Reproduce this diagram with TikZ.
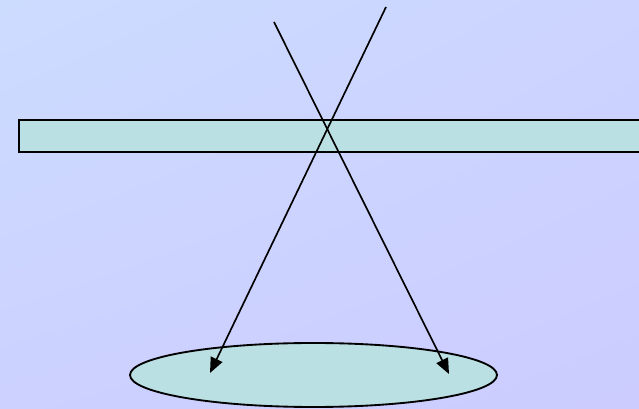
\documentclass[tikz,border=0pt]{standalone}
\usetikzlibrary{arrows.meta,shapes.geometric,shadings}
\definecolor{bgTL}{HTML}{CCDCFF}
\definecolor{bgBR}{HTML}{CCCCFF}
\definecolor{glass}{HTML}{BBE0E3}
\tikzset{pane/.style={draw=black, fill=glass, line width=1.4pt, inner sep=0pt},
  ray/.style={-{Triangle[length=11.5pt, width=9.5pt]}, line width=1.25pt, black}}
\begin{document}
\begin{tikzpicture}[x=0.75pt,y=-0.75pt]
% ---- background ----
\useasboundingbox (0,0) rectangle (639,409);
\clip (0,0) rectangle (639,409);
\shade[upper left=bgTL, upper right=bgBR!50!bgTL, lower left=bgBR!70!bgTL, lower right=bgBR] (0,0) rectangle (639,409);
% ---- slab and screen ----
\node[pane, rectangle, minimum width=630*0.75pt, minimum height=32*0.75pt, anchor=north west] (slab) at (18,119) {};
\node[pane, ellipse, minimum width=367*0.75pt, minimum height=64*0.75pt] (screen) at (313.5,375) {};
% ---- rays ----
\coordinate (srcA) at (274,22);
\coordinate (srcB) at (386,7);
\coordinate (hitA) at (449,374);
\coordinate (hitB) at (210,373);
\draw[ray] (srcA) -- (hitA);
\draw[ray] (srcB) -- (hitB);
\end{tikzpicture}
\end{document}
